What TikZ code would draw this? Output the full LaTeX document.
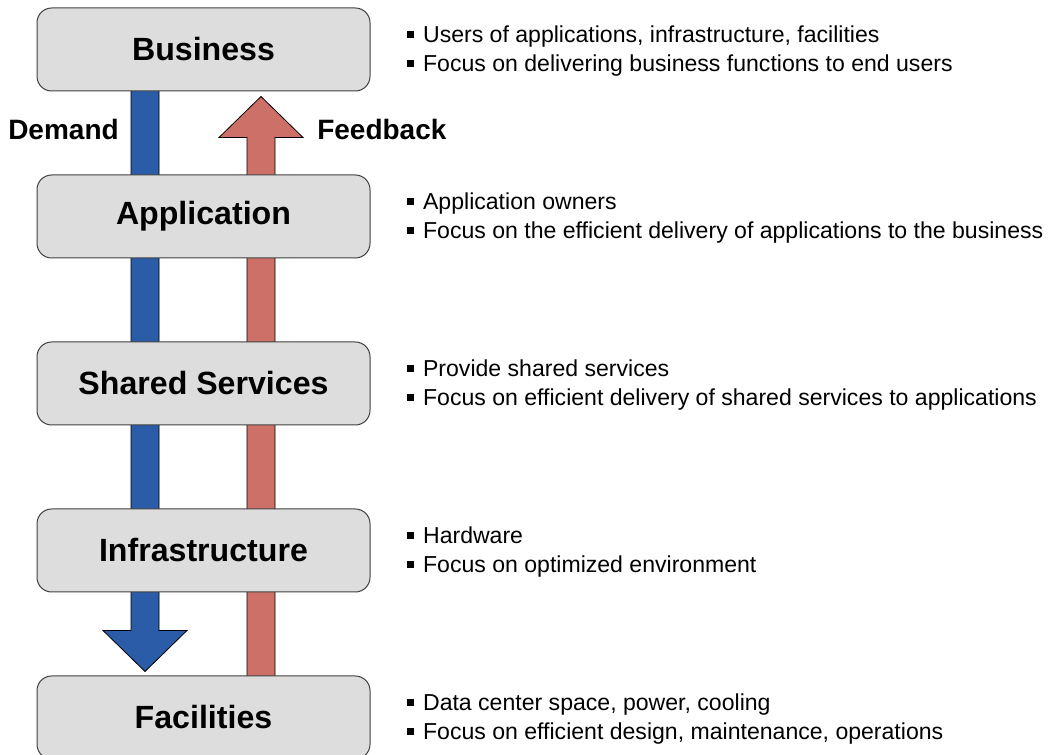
\documentclass[tikz,border=0pt]{standalone}
\usepackage{fontspec}
\setmainfont{Liberation Sans}
\usetikzlibrary{positioning,calc,backgrounds}
\definecolor{demandblue}{RGB}{42,92,168}
\definecolor{feedbackred}{RGB}{205,112,104}
\definecolor{layergray}{RGB}{221,221,221}
\newcommand{\sqbullet}{\rule[3.75pt]{5.25pt}{5.25pt}\hspace{7pt}}

\begin{document}
\begin{tikzpicture}[
    x=0.75pt, y=0.75pt,
    node distance=62.25pt,
    layer/.style={draw=black!75, fill=layergray, rounded corners=11pt,
      line width=0.75pt, minimum width=249.75pt, minimum height=62.25pt,
      font=\fontsize{24.1}{29}\selectfont\bfseries},
    notes/.style={align=left, inner sep=0pt, yshift=-1.5pt,
      font=\fontsize{17.3}{21.75}\selectfont},
    flow/.style={draw=black, line width=0.6pt, line join=miter},
    tag/.style={inner sep=0pt, font=\fontsize{21}{25}\selectfont\bfseries}]
  \useasboundingbox (0,0) rectangle (1051,-755);
  % the layers
  \node[layer] (biz) at (203.5,-49.5) {Business};
  \node[layer, below=of biz] (app) {Application};
  \node[layer, below=of app] (shared) {Shared Services};
  \node[layer, below=of shared] (infra) {Infrastructure};
  \node[layer, below=of infra] (fac) {Facilities};
  % what each layer does
  \node[notes, right=27pt of biz] (biznotes)
    {\sqbullet Users of applications, infrastructure, facilities\\
     \sqbullet Focus on delivering business functions to end users};
  \node[notes, right=27pt of app] (appnotes)
    {\sqbullet Application owners\\
     \sqbullet Focus on the efficient delivery of applications to the business};
  \node[notes, right=27pt of shared] (sharednotes)
    {\sqbullet Provide shared services\\
     \sqbullet Focus on efficient delivery of shared services to applications};
  \node[notes, right=27pt of infra] (infranotes)
    {\sqbullet Hardware\\
     \sqbullet Focus on optimized environment};
  \node[notes, right=27pt of fac] (facnotes)
    {\sqbullet Data center space, power, cooling\\
     \sqbullet Focus on efficient design, maintenance, operations};
  % demand goes down, feedback comes up
  \begin{scope}[on background layer]
    \draw[flow, fill=demandblue]
      ($(fac.north)+(-58.5,4)$) coordinate (dtip) -- ++(-42,41) -- ++(28,0)
      -- ($(biz.center)+(-72.5,0)$) -- ++(28,0)
      -- ($(dtip)+(14,41)$) -- ++(28,0) -- cycle;
    \draw[flow, fill=feedbackred]
      ($(biz.south)+(57.5,-5)$) coordinate (ftip) -- ++(42,-41) -- ++(-28,0)
      -- ($(fac.center)+(71.5,0)$) -- ++(-28,0)
      -- ($(ftip)+(-14,-41)$) -- ++(-28,0) -- cycle;
  \end{scope}
  \node[tag, anchor=base east] (demand) at ($(biz.south)+(-84.5,-48)$) {Demand};
  \node[tag, anchor=base west] (feedback) at ($(biz.south)+(113.5,-48)$) {Feedback};
\end{tikzpicture}
\end{document}
